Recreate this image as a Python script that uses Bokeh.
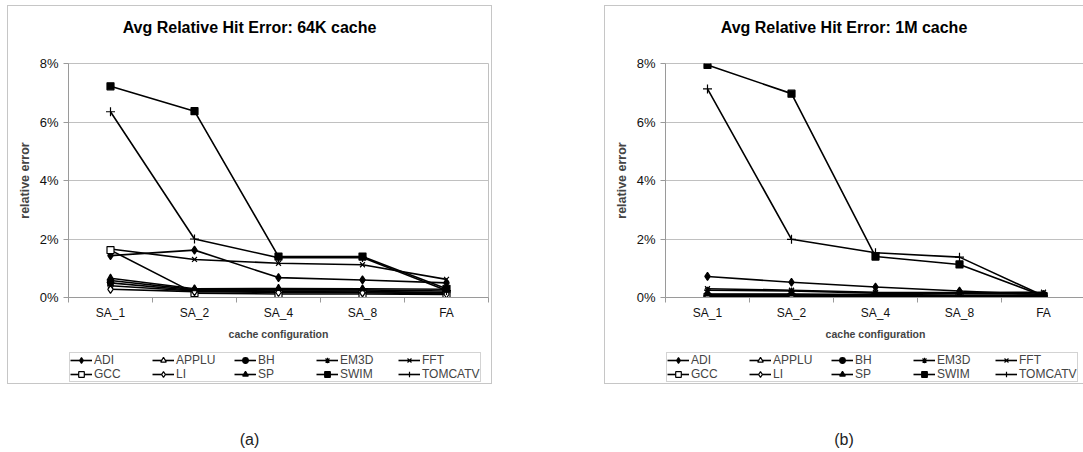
import numpy as np
from bokeh.plotting import figure
from bokeh.models import (Range1d, FixedTicker, PrintfTickFormatter, Legend,
                          LegendItem, Div, Spacer)
from bokeh.layouts import row, column
from bokeh.embed import file_html
from bokeh.resources import INLINE

# cache configurations (x axis)
configs = ["SA_1", "SA_2", "SA_4", "SA_8", "FA"]
benchmarks = ["ADI", "APPLU", "BH", "EM3D", "FFT", "GCC", "LI", "SP", "SWIM", "TOMCATV"]

# average relative hit error (%) with a 64K cache
k64_adi     = [1.43, 1.62, 0.68, 0.60, 0.50]
k64_applu   = [0.58, 0.27, 0.26, 0.26, 0.22]
k64_bh      = [0.50, 0.24, 0.22, 0.22, 0.15]
k64_em3d    = [0.40, 0.22, 0.20, 0.19, 0.18]
k64_fft     = [1.66, 1.30, 1.17, 1.12, 0.62]
k64_gcc     = [1.62, 0.15, 0.12, 0.12, 0.10]
k64_li      = [0.28, 0.20, 0.17, 0.16, 0.12]
k64_sp      = [0.66, 0.30, 0.31, 0.30, 0.28]
k64_swim    = [7.22, 6.37, 1.40, 1.40, 0.30]
k64_tomcatv = [6.35, 2.00, 1.36, 1.37, 0.24]

# average relative hit error (%) with a 1M cache
m1_adi     = [0.72, 0.52, 0.36, 0.22, 0.10]
m1_applu   = [0.10, 0.10, 0.07, 0.06, 0.06]
m1_bh      = [0.08, 0.08, 0.06, 0.05, 0.05]
m1_em3d    = [0.25, 0.22, 0.15, 0.15, 0.12]
m1_fft     = [0.30, 0.25, 0.18, 0.17, 0.18]
m1_gcc     = [0.02, 0.02, 0.02, 0.02, 0.03]
m1_li      = [0.03, 0.03, 0.03, 0.03, 0.04]
m1_sp      = [0.12, 0.12, 0.10, 0.08, 0.08]
m1_swim    = [7.95, 6.97, 1.40, 1.13, 0.05]
m1_tomcatv = [7.13, 1.99, 1.53, 1.38, 0.06]

yticks = [0, 2, 4, 6, 8]

series_64k = dict(zip(benchmarks, [k64_adi, k64_applu, k64_bh, k64_em3d, k64_fft,
                                   k64_gcc, k64_li, k64_sp, k64_swim, k64_tomcatv]))
series_1m = dict(zip(benchmarks, [m1_adi, m1_applu, m1_bh, m1_em3d, m1_fft,
                                  m1_gcc, m1_li, m1_sp, m1_swim, m1_tomcatv]))

# marker, fill colour, size per benchmark
STYLE = {
    "ADI":     ("diamond", "black", 8),
    "APPLU":   ("triangle", "white", 7),
    "BH":      ("circle", "black", 6),
    "EM3D":    ("asterisk", "black", 7),
    "FFT":     ("x", "black", 7),
    "GCC":     ("square", "white", 7),
    "LI":      ("diamond", "white", 8),
    "SP":      ("triangle", "black", 7),
    "SWIM":    ("square", "black", 7),
    "TOMCATV": ("cross", "black", 9),
}

FONT = "Liberation Sans"
GRID = "#c0c0c0"
AXIS = "#9a9a9a"
FRAME_W = 420
FRAME_H = 234
PAD_LEFT = 57
PANEL_OUTLINE = {"outline": "1px solid #c6c6c6", "outline-offset": "0px"}


def add_series(p, series, xpos):
    rends = {}
    for name in benchmarks:
        vals = series[name]
        marker, fill, size = STYLE[name]
        ln = p.line(xpos, vals, line_color="black", line_width=1.6)
        sc = p.scatter(xpos, vals, marker=marker, size=size, fill_color=fill,
                       line_color="black", line_width=1.2)
        rends[name] = (ln, sc)
    return rends


def make_chart(series, width):
    p = figure(frame_width=FRAME_W, frame_height=FRAME_H,
               x_range=Range1d(0, len(configs)), y_range=Range1d(min(yticks), max(yticks)),
               output_backend="svg", toolbar_location=None,
               min_border_left=PAD_LEFT, min_border_right=width - PAD_LEFT - FRAME_W,
               min_border_top=8, min_border_bottom=48)

    xpos = np.arange(len(configs)) + 0.5
    xa = p.xaxis[0]
    xa.ticker = FixedTicker(ticks=list(xpos), minor_ticks=list(range(len(configs) + 1)))
    xa.major_label_overrides = {float(x): c for x, c in zip(xpos, configs)}
    xa.major_tick_in = 0
    xa.major_tick_out = 0
    xa.minor_tick_in = 0
    xa.minor_tick_out = 5
    xa.minor_tick_line_color = AXIS
    xa.axis_line_color = AXIS
    xa.major_label_text_font = FONT
    xa.major_label_text_font_size = "12px"
    xa.major_label_text_color = "#111111"
    xa.major_label_standoff = 3
    xa.axis_label = "cache configuration"
    xa.axis_label_text_font = FONT
    xa.axis_label_text_font_size = "10.5px"
    xa.axis_label_text_font_style = "bold"
    xa.axis_label_standoff = 5

    ya = p.yaxis[0]
    ya.ticker = FixedTicker(ticks=yticks, minor_ticks=[])
    ya.formatter = PrintfTickFormatter(format="%d%%")
    ya.major_tick_in = 0
    ya.major_tick_out = 5
    ya.major_tick_line_color = AXIS
    ya.axis_line_color = AXIS
    ya.major_label_text_font = FONT
    ya.major_label_text_font_size = "13px"
    ya.major_label_text_color = "#111111"
    ya.major_label_standoff = 5
    ya.axis_label = "relative error"
    ya.axis_label_text_font = FONT
    ya.axis_label_text_font_size = "12.5px"
    ya.axis_label_text_font_style = "bold"
    ya.axis_label_standoff = 5

    p.xgrid.visible = False
    p.ygrid.ticker = FixedTicker(ticks=yticks, minor_ticks=[])
    p.ygrid.grid_line_color = GRID
    p.outline_line_color = GRID

    add_series(p, series, xpos)
    return p


def make_legend(series, width):
    # a strip holding only the legend; its y range sits above the data so that
    # the series drawn here only feed the legend swatches
    lf = figure(width=width, height=38, x_range=Range1d(0, len(configs)),
                y_range=Range1d(100, 101),
                output_backend="svg", toolbar_location=None,
                x_axis_location=None, y_axis_location=None,
                min_border_left=PAD_LEFT + 3, min_border_right=width - PAD_LEFT - 3 - 416,
                min_border_top=0, min_border_bottom=0)
    lf.xgrid.visible = False
    lf.ygrid.visible = False
    lf.outline_line_color = None
    xpos = np.arange(len(configs)) + 0.5
    rends = add_series(lf, series, xpos)
    items = [LegendItem(label=name, renderers=list(rends[name])) for name in benchmarks]
    leg = Legend(items=items, orientation="horizontal", ncols=5, location=(1, 1),
                 label_text_font=FONT, label_text_font_size="12px",
                 glyph_width=22, glyph_height=14, label_height=14, label_width=58,
                 label_standoff=2, spacing=0, padding=0, margin=0,
                 border_line_color="#a8a8a8", border_line_width=1,
                 background_fill_color="white")
    lf.add_layout(leg, "center")
    return lf


def make_panel(title, series, width):
    head = Div(text=f'<div style="padding-top:11px">{title}</div>', width=width, height=49,
               margin=0,
               styles={"font-family": FONT, "font-size": "16px", "font-weight": "bold",
                       "text-align": "center", "color": "#000"})
    return column(head, make_chart(series, width), make_legend(series, width),
                  spacing=0, styles=PANEL_OUTLINE)


left = make_panel("Avg Relative Hit Error: 64K cache", series_64k, 483)
right = make_panel("Avg Relative Hit Error: 1M cache", series_1m, 478)

label_style = {"text-align": "center", "font-size": "16px", "font-family": FONT, "color": "#222"}
lab_a = Div(text="(a)", width=483, height=20, margin=0, styles=label_style)
lab_b = Div(text="(b)", width=478, height=20, margin=0, styles=label_style)

page = column(
    Spacer(width=1083, height=6),
    row(Spacer(width=8, height=377), left, Spacer(width=114, height=377), right),
    Spacer(width=1083, height=46),
    row(Spacer(width=8, height=20), lab_a, Spacer(width=114, height=20), lab_b),
)

open("out.html", "w").write(file_html(page, INLINE))
